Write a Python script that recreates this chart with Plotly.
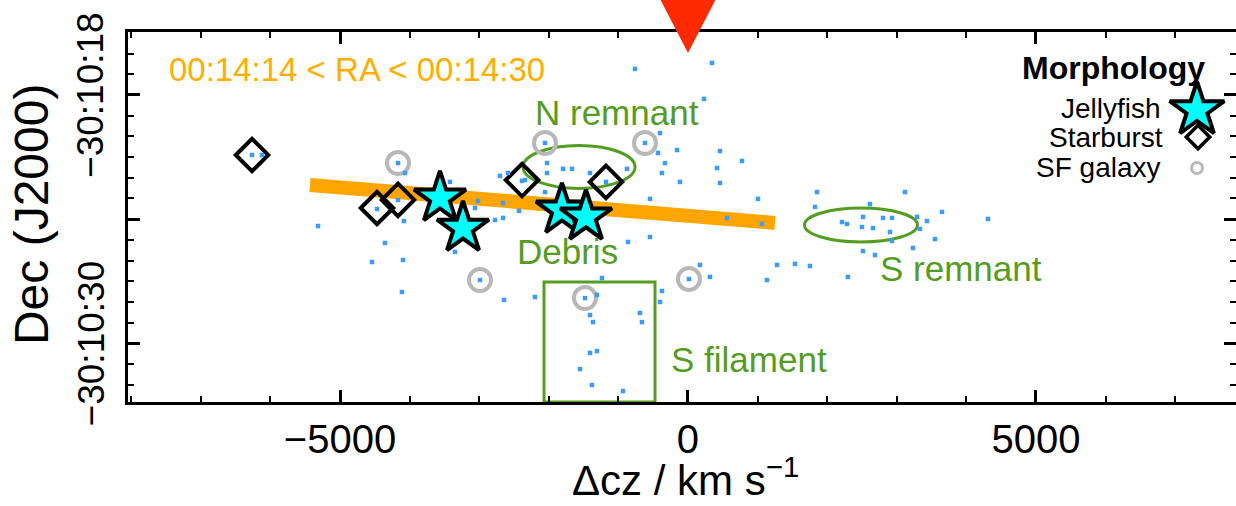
import plotly.graph_objects as go

# ---------------- data ----------------
# Member galaxies: velocity offset (km/s) and Dec seconds below -30:10:00
member_dcz = [-762, 345, 230, -216, -2055, -618, -402, -431, -158, -331,
              460, 776, 417, -374, -115, 460, -2026, -1796, -1667, -2026,
              -2702, -1408, 1854, 1006, -877, -2342, -2055, -2429, -2658, -2658,
              -546, 1825, -546, -862, 560, 1063, 172, 316, 1279, 1538,
              1753, 1135, -1236, -374, -402, -4081, -4095, -4110, -3348, -3018,
              -2989, -2644, -2199, -1480, -1308, -1408, -1365, -690, -661, -1408,
              -1308, -1552, -1380, -934, 14, -5317, -4354, -4541, -4469, -4167,
              -6265, -6122, -4167, -4067, -2773, -2587, -3061, -3420, 3118, 2615,
              2515, 2213, 2285, 2500, 2658, 2802, 2931, 2903, 2931, 3291,
              3434, 3334, 3650, 4311, 3549, 3233, 2515, 2687, 2299, -2385,
              -1178]
member_dec = [16.74, 16.45, 18.19, 19.26, 20.32, 20.32, 19.84, 20.80, 20.66, 21.29,
              20.71, 21.19, 21.53, 21.77, 22.20, 22.25, 21.29, 21.57, 21.57, 21.77,
              21.91, 21.77, 22.69, 23.02, 21.57, 22.11, 22.69, 23.60, 23.22, 23.94,
              23.02, 23.41, 24.86, 25.10, 23.94, 24.23, 26.21, 26.79, 26.21, 26.16,
              26.26, 26.94, 26.84, 27.47, 28.00, 24.09, 25.97, 27.52, 25.58, 23.12,
              26.94, 27.90, 27.76, 27.81, 27.66, 28.63, 28.97, 28.53, 28.97, 30.46,
              30.37, 31.24, 32.01, 32.30, 26.89, 24.33, 25.15, 26.07, 23.51, 23.07,
              20.90, 20.90, 21.29, 21.77, 24.04, 21.77, 23.46, 22.20, 22.69, 23.27,
              23.89, 24.14, 24.23, 24.38, 24.43, 23.94, 23.94, 24.62, 25.05, 23.89,
              24.09, 24.47, 23.65, 23.99, 24.96, 25.39, 25.54, 25.73, 26.79, 22.15,
              22.20]

# Morphological classes
jelly_dcz = [-3564, -3233, -1811, -1466]
jelly_dec = [22.98, 24.43, 23.56, 23.89]
starburst_dcz = [-6265, -4469, -4167, -2385, -1178]
starburst_dec = [20.90, 23.46, 23.07, 22.11, 22.20]
sf_dcz = [-4167, -2055, -618, -2989, 14, -1480]
sf_dec = [21.29, 20.32, 20.32, 26.94, 26.89, 27.81]

# Velocity-position trend of the debris
trend_dcz = [-5432, 1250]
trend_dec = [22.35, 24.18]

# Structures: ellipses (centre, semi-axes) and filament box
n_remnant = dict(dcz=-1566, dec=21.48, a=805, b=1.04)
s_remnant = dict(dcz=2486, dec=24.28, a=812, b=0.82)
s_filament = dict(dcz0=-2069, dcz1=-474, dec0=27.03)

cluster_dcz = 0

x_range = [-8047, 7875]
y_range = [32.83, 14.96]
y_major = [18, 24, 30]
y_labels = {18: "\u221230:10:18", 30: "\u221230:10:30"}
x_major = [-5000, 0, 5000]
x_major_text = ["\u22125000", "0", "5000"]

FONT = "Liberation Sans, Arial, Helvetica, sans-serif"
GREEN = "#559d22"
ORANGE_TEXT = "#ffae00"

fig = go.Figure()

# trend line
fig.add_trace(go.Scatter(x=trend_dcz, y=trend_dec, mode="lines",
                         line=dict(color="#ffa500", width=14),
                         hoverinfo="skip", showlegend=False))
# SF galaxies (grey rings)
fig.add_trace(go.Scatter(x=sf_dcz, y=sf_dec, mode="markers",
                         marker=dict(symbol="circle-open", size=22, color="#b8b8b8",
                                     line=dict(width=4, color="#b8b8b8")),
                         showlegend=False))
# starbursts (open diamonds)
fig.add_trace(go.Scatter(x=starburst_dcz, y=starburst_dec, mode="markers",
                         marker=dict(symbol="diamond-open", size=25, color="black",
                                     line=dict(width=4, color="black")),
                         showlegend=False))
# members
fig.add_trace(go.Scatter(x=member_dcz, y=member_dec, mode="markers",
                         marker=dict(symbol="square", size=4.5, color="#3d9bff",
                                     line=dict(width=0)),
                         showlegend=False))
# jellyfish
fig.add_trace(go.Scatter(x=jelly_dcz, y=jelly_dec, mode="markers",
                         marker=dict(symbol="star", size=39, color="#00ffff",
                                     line=dict(width=4, color="black")),
                         showlegend=False))

# right-hand tick marks
fig.add_trace(go.Scatter(x=[cluster_dcz], y=[None], yaxis="y2", mode="markers",
                         showlegend=False, hoverinfo="skip"))

# legend keys on a unit overlay
fig.add_trace(go.Scatter(x=[0.9648], y=[0.7892], xaxis="x3", yaxis="y3", mode="markers",
                         marker=dict(symbol="star", size=41, color="#00ffff",
                                     line=dict(width=4, color="black")),
                         showlegend=False, hoverinfo="skip"))
fig.add_trace(go.Scatter(x=[0.9657], y=[0.7162], xaxis="x3", yaxis="y3", mode="markers",
                         marker=dict(symbol="diamond-open", size=18, color="black",
                                     line=dict(width=3.5, color="black")),
                         showlegend=False, hoverinfo="skip"))
fig.add_trace(go.Scatter(x=[0.9648], y=[0.6324], xaxis="x3", yaxis="y3", mode="markers",
                         marker=dict(symbol="circle-open", size=11, color="#b8b8b8",
                                     line=dict(width=3, color="#b8b8b8")),
                         showlegend=False, hoverinfo="skip"))

shapes = [
    dict(type="circle", xref="x", yref="y", layer="below",
         x0=n_remnant["dcz"] - n_remnant["a"], x1=n_remnant["dcz"] + n_remnant["a"],
         y0=n_remnant["dec"] - n_remnant["b"], y1=n_remnant["dec"] + n_remnant["b"],
         line=dict(color=GREEN, width=3)),
    dict(type="circle", xref="x", yref="y", layer="below",
         x0=s_remnant["dcz"] - s_remnant["a"], x1=s_remnant["dcz"] + s_remnant["a"],
         y0=s_remnant["dec"] - s_remnant["b"], y1=s_remnant["dec"] + s_remnant["b"],
         line=dict(color=GREEN, width=3)),
    dict(type="rect", xref="x", yref="y", layer="below",
         x0=s_filament["dcz0"], x1=s_filament["dcz1"],
         y0=s_filament["dec0"], y1=y_range[0],
         line=dict(color=GREEN, width=3)),
    # cluster systemic velocity pointer
    dict(type="path", xref="x", yref="paper",
         path=f"M {cluster_dcz - 431} 1.1 L {cluster_dcz + 431} 1.1 L {cluster_dcz} 0.943 Z",
         fillcolor="#ff2a00", line=dict(width=0)),
]


def label(x, y, text, size, color, xref="x", yref="y", xanchor="left", **kw):
    return dict(x=x, y=y, xref=xref, yref=yref, text=text, xanchor=xanchor,
                yanchor="middle", showarrow=False,
                font=dict(family=FONT, size=size, color=color), **kw)


annotations = [
    label(-7487, 16.79, "00:14:14 < RA < 00:14:30", 33, ORANGE_TEXT),
    label(-2227, 18.87, "N remnant", 35, GREEN),
    label(-2486, 25.54, "Debris", 35, GREEN),
    label(2730, 26.36, "S remnant", 35, GREEN),
    label(-273, 30.80, "S filament", 35, GREEN),
    # legend
    label(0.9738, 0.9027, "<b>Morphology</b>", 32, "black", "paper", "paper", "right"),
    label(0.9341, 0.7919, "Jellyfish", 28, "black", "paper", "paper", "right"),
    label(0.9360, 0.7162, "Starburst", 28, "black", "paper", "paper", "right"),
    label(0.9341, 0.6351, "SF galaxy", 28, "black", "paper", "paper", "right"),
    # axis titles
    label(0.503, -0.2030, "\u0394cz / km s<sup>\u22121</sup>", 42, "black",
          "paper", "paper", "center"),
    label(-0.0875, 0.5054, "Dec (J2000)", 48, "black", "paper", "paper", "center",
          textangle=-90),
]
# Dec tick labels, rotated and centred on their ticks
for val, txt in y_labels.items():
    annotations.append(label(-0.0334, val, txt, 37, "black", "paper", "y", "center",
                             textangle=-90))

fig.update_layout(
    width=1236, height=506,
    margin=dict(l=128, r=0, t=32, b=104),
    paper_bgcolor="white", plot_bgcolor="white",
    showlegend=False,
    shapes=shapes, annotations=annotations,
    xaxis=dict(range=x_range, tickvals=x_major, ticktext=x_major_text,
               ticks="inside", ticklen=12, tickwidth=2.5, tickcolor="black",
               minor=dict(dtick=1000, tick0=0, ticks="inside", ticklen=6,
                          tickwidth=2, tickcolor="black"),
               showline=True, linewidth=3, linecolor="black", mirror="ticks",
               showgrid=False, zeroline=False,
               tickfont=dict(family=FONT, size=40, color="black")),
    yaxis=dict(range=y_range, tickvals=y_major, showticklabels=False,
               ticks="inside", ticklen=12, tickwidth=2.5, tickcolor="black",
               minor=dict(dtick=1, tick0=0, ticks="inside", ticklen=6,
                          tickwidth=2, tickcolor="black"),
               showline=True, linewidth=3, linecolor="black", mirror=False,
               showgrid=False, zeroline=False),
    yaxis2=dict(range=y_range, overlaying="y", side="right", anchor="x",
                tickvals=y_major, showticklabels=False,
                ticks="inside", ticklen=12, tickwidth=2.5, tickcolor="black",
                minor=dict(dtick=1, tick0=0, ticks="inside", ticklen=6,
                           tickwidth=2, tickcolor="black"),
                showline=False, showgrid=False, zeroline=False),
    xaxis3=dict(range=[0, 1], overlaying="x", visible=False, anchor="y3"),
    yaxis3=dict(range=[0, 1], overlaying="y", visible=False, anchor="x3"),
)

fig.write_html("out.html")
